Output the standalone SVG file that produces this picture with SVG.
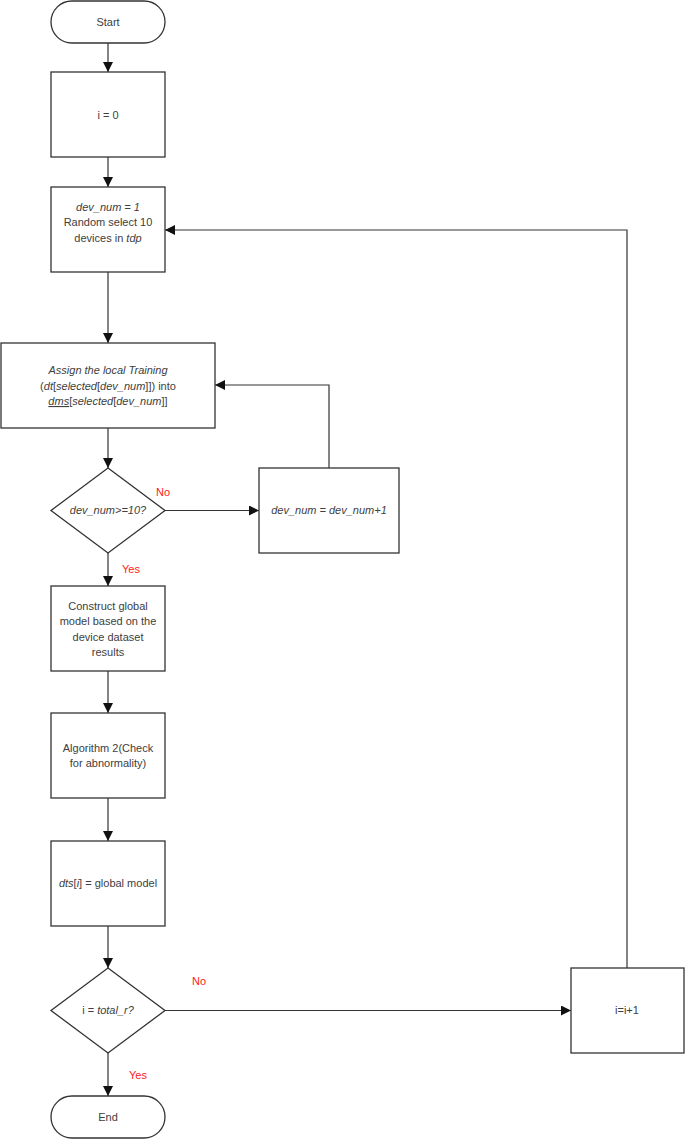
<svg xmlns="http://www.w3.org/2000/svg" width="685" height="1139" viewBox="0 0 685 1139">
<style>
.s{fill:#fff;stroke:#333;stroke-width:1.3}
.c{fill:none;stroke:#333;stroke-width:1.2}
text{font-family:"Liberation Sans",Arial,sans-serif;font-size:11px;fill:#404040;text-anchor:middle}
.i{font-style:italic}
.r{fill:#ff2020}
</style>
<defs>
<marker id="a" viewBox="0 0 10 10" refX="10" refY="5" markerWidth="10" markerHeight="10" markerUnits="userSpaceOnUse" orient="auto">
<path d="M0,0 L10,5 L0,10 Z" fill="#111"/>
</marker>
</defs>
<g id="connectors">
<path class="c" d="M108,43 V72" marker-end="url(#a)"/>
<path class="c" d="M108,157 V187" marker-end="url(#a)"/>
<path class="c" d="M108,272 V343" marker-end="url(#a)"/>
<path class="c" d="M108,428 V468" marker-end="url(#a)"/>
<path class="c" d="M165,510.5 H259" marker-end="url(#a)"/>
<path class="c" d="M329,468 V385 H215" marker-end="url(#a)"/>
<path class="c" d="M108,553 V586" marker-end="url(#a)"/>
<path class="c" d="M108,671 V713" marker-end="url(#a)"/>
<path class="c" d="M108,798 V841" marker-end="url(#a)"/>
<path class="c" d="M108,926 V968" marker-end="url(#a)"/>
<path class="c" d="M165,1010.5 H571" marker-end="url(#a)"/>
<path class="c" d="M627,968 V230 H165" marker-end="url(#a)"/>
<path class="c" d="M108,1053 V1096" marker-end="url(#a)"/>
<text class="r" x="163" y="496">No</text>
<text class="r" x="131" y="573">Yes</text>
<text class="r" x="199" y="985">No</text>
<text class="r" x="138" y="1079">Yes</text>
</g>
<g id="start">
<rect class="s" x="51" y="1" width="114" height="42" rx="21"/>
<text x="108" y="26">Start</text>
</g>
<g id="init">
<rect class="s" x="51" y="72" width="114" height="85"/>
<text x="108" y="119">i = 0</text>
</g>
<g id="select">
<rect class="s" x="51" y="187" width="114" height="85"/>
<text x="108" y="211" class="i">dev_num = 1</text>
<text x="108" y="226">Random select 10</text>
<text x="108" y="242">devices in <tspan class="i">tdp</tspan></text>
</g>
<g id="assign">
<rect class="s" x="1" y="343" width="214" height="85"/>
<text x="108" y="374" class="i">Assign the local Training</text>
<text x="108" y="390">(<tspan class="i">dt</tspan>[<tspan class="i">selected</tspan>[<tspan class="i">dev_num</tspan>]]) into</text>
<text x="108" y="405"><tspan class="i" text-decoration="underline">dms</tspan>[<tspan class="i">selected</tspan>[<tspan class="i">dev_num</tspan>]]</text>
</g>
<g id="check-dev">
<polygon class="s" points="108,468 165,510.5 108,553 51,510.5"/>
<text x="108" y="514" class="i">dev_num&gt;=10?</text>
</g>
<g id="increment-dev">
<rect class="s" x="259" y="468" width="140" height="85"/>
<text x="329" y="514" class="i">dev_num = dev_num+1</text>
</g>
<g id="construct">
<rect class="s" x="51" y="586" width="114" height="85"/>
<text x="108" y="610">Construct global</text>
<text x="108" y="625">model based on the</text>
<text x="108" y="641">device dataset</text>
<text x="108" y="656">results</text>
</g>
<g id="algorithm2">
<rect class="s" x="51" y="713" width="114" height="85"/>
<text x="108" y="752">Algorithm 2(Check</text>
<text x="108" y="767">for abnormality)</text>
</g>
<g id="assign-dts">
<rect class="s" x="51" y="841" width="114" height="85"/>
<text x="108" y="887"><tspan class="i">dts</tspan>[<tspan class="i">i</tspan>] = global model</text>
</g>
<g id="check-round">
<polygon class="s" points="108,968 165,1010.5 108,1053 51,1010.5"/>
<text x="108" y="1014">i = <tspan class="i">total_r?</tspan></text>
</g>
<g id="increment-i">
<rect class="s" x="571" y="968" width="113" height="85"/>
<text x="627" y="1014">i=i+1</text>
</g>
<g id="end">
<rect class="s" x="51" y="1096" width="114" height="42" rx="21"/>
<text x="108" y="1121">End</text>
</g>
</svg>
